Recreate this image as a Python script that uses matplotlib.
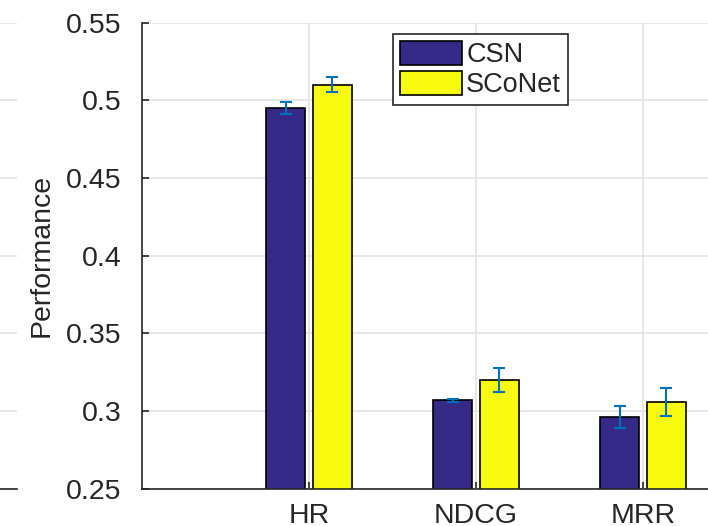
import numpy as np
import matplotlib
matplotlib.use('Agg')
import matplotlib.pyplot as plt

plt.rcParams['font.family'] = ['Liberation Sans', 'DejaVu Sans']

# datos
categorias = ['HR', 'NDCG', 'MRR']
csn = [0.495, 0.307, 0.296]
csn_err = [0.004, 0.001, 0.007]
sconet = [0.510, 0.320, 0.306]
sconet_err = [0.0048, 0.008, 0.009]
yticks = [0.25, 0.3, 0.35, 0.4, 0.45, 0.5, 0.55]

W, H = 708, 526
fig = plt.figure(figsize=(W / 100, H / 100), dpi=100)

gris_texto = '#262626'
gris_grid = '#e3e3e3'

# trozo del panel vecino que queda cortado a la izquierda
ax0 = fig.add_axes([-0.2, 37.3 / H, 0.2 + 17 / W, 466 / H])
ax0.set_ylim(0.25, 0.55)
ax0.set_yticks(yticks)
ax0.grid(True, axis='y', color=gris_grid, linewidth=1.2)
ax0.tick_params(left=False, bottom=False, labelleft=False, labelbottom=False)
for s in ['top', 'right', 'left']:
    ax0.spines[s].set_visible(False)
ax0.spines['bottom'].set_color(gris_texto)
ax0.spines['bottom'].set_linewidth(1.2)

# panel principal (se sale por la derecha como en la imagen)
px_unidad = 167
ax = fig.add_axes([142 / W, 37.3 / H, 4 * px_unidad / W, 466 / H])
x = np.arange(1, len(categorias) + 1)
ancho = 0.23
off = 0.14

ax.bar(x - off, csn, ancho, color='#352a87', edgecolor='black', linewidth=1.2, label='CSN')
ax.bar(x + off, sconet, ancho, color='#f9fb0e', edgecolor='black', linewidth=1.2, label='SCoNet')
ax.errorbar(x - off, csn, yerr=csn_err, fmt='none', ecolor='#0072bd', elinewidth=1.5, capsize=4, capthick=1.5)
ax.errorbar(x + off, sconet, yerr=sconet_err, fmt='none', ecolor='#0072bd', elinewidth=1.5, capsize=4, capthick=1.5)

ax.set_xlim(0, 4)
ax.set_ylim(0.25, 0.55)
ax.set_xticks(x)
ax.set_xticklabels(categorias)
ax.set_yticks(yticks)
ax.set_yticklabels(['0.25', '0.3', '0.35', '0.4', '0.45', '0.5', '0.55'])
ax.set_axisbelow(True)
ax.grid(True, color=gris_grid, linewidth=1.2)
for s in ['top', 'right']:
    ax.spines[s].set_visible(False)
for s in ['left', 'bottom']:
    ax.spines[s].set_color(gris_texto)
    ax.spines[s].set_linewidth(1.2)
ax.tick_params(direction='in', length=5, width=1.2, color=gris_texto,
               labelsize=20.5, labelcolor=gris_texto, pad=10)
ax.tick_params(axis='y', pad=15)
ax.set_ylabel('Performance', fontsize=20.5, color=gris_texto, labelpad=8)

leg = ax.legend(loc='upper left', bbox_to_anchor=(393 / W, 1 - 34 / H),
                bbox_transform=fig.transFigure, fontsize=19.5, frameon=True,
                fancybox=False, edgecolor=gris_texto, framealpha=1,
                handlelength=2.3, handleheight=1.0, handletextpad=0.15,
                borderpad=0.25, labelspacing=0.1, borderaxespad=0)
leg.get_frame().set_linewidth(1.2)
for t in leg.get_texts():
    t.set_color(gris_texto)

fig.savefig('out.png', dpi=100)
